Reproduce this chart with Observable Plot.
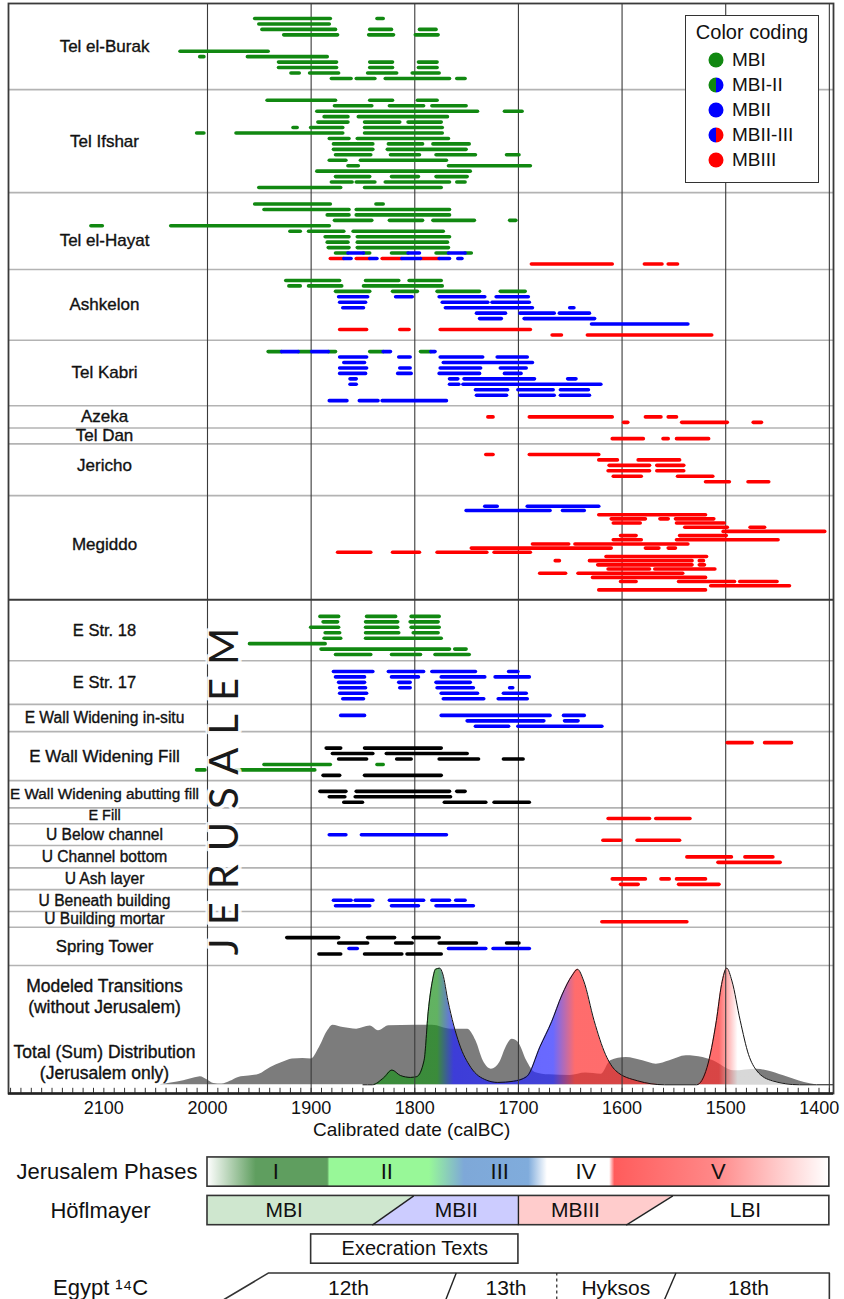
<!DOCTYPE html>
<html><head><meta charset="utf-8">
<script src="https://cdn.jsdelivr.net/npm/d3@7"></script>
<script src="https://cdn.jsdelivr.net/npm/@observablehq/plot@0.6"></script>
<style>
body{margin:0;background:#fff;}
#wrap{position:relative;width:844px;font-family:"Liberation Sans",Arial,sans-serif;color:#111;}
#wrap > svg{display:block;}
.legend{position:absolute;left:685px;top:15px;width:134px;height:168px;border:1.3px solid #333;background:#fff;box-sizing:border-box;}
.legend .lt{position:absolute;left:0;width:100%;top:5px;text-align:center;font-size:20px;}
.legend .li{position:absolute;left:22px;height:20px;font-size:19px;line-height:20px;white-space:nowrap;}
.legend .li svg{display:inline-block;vertical-align:middle;margin-right:8px;}
.legend .li span{vertical-align:middle;}
</style></head>
<body><div id="wrap"></div>
<script>
// ---------------- DATA ----------------
const siteNames = ["Tel el-Burak","Tel Ifshar","Tel el-Hayat","Ashkelon","Tel Kabri","Azeka","Tel Dan","Jericho","Megiddo",
  "E Str. 18","E Str. 17","E Wall Widening in-situ","E Wall Widening Fill","E Wall Widening abutting fill","E Fill",
  "U Below channel","U Channel bottom","U Ash layer","U Beneath building","U Building mortar","Spring Tower"];
const jerusalemFirst = "E Str. 18";
const phases = ["MBI","MBII","MBIII","unassigned"];
const phaseColors = ["#118811","#0000ff","#ff0000","#000000"];
const legendLabels = ["MBI","MBI-II","MBII","MBII-III","MBIII"];
const legendFills = [["#118811"],["#118811","#0000ff"],["#0000ff"],["#0000ff","#ff0000"],["#ff0000"]];

// [site, lane, phase, [older, younger, older, younger, ...]] in calBC
const samples = [
 ["Tel el-Burak",0,"MBI",[1954,1881,1836,1830]],
 ["Tel el-Burak",1,"MBI",[1950,1882]],
 ["Tel el-Burak",2,"MBI",[1947,1876,1843,1822,1795,1779]],
 ["Tel el-Burak",3,"MBI",[1926,1874,1844,1820,1799,1777]],
 ["Tel el-Burak",6,"MBI",[2026,1941]],
 ["Tel el-Burak",7,"MBI",[2007,2003,1961,1884]],
 ["Tel el-Burak",8,"MBI",[1931,1875,1843,1821,1796,1778]],
 ["Tel el-Burak",9,"MBI",[1931,1875,1843,1821,1796,1778]],
 ["Tel el-Burak",10,"MBI",[1919,1911,1901,1873,1845,1817,1802,1776]],
 ["Tel el-Burak",11,"MBI",[1880,1861,1856,1838,1828,1766,1759,1751]],
 ["Tel Ifshar",0,"MBI",[1942,1876,1843,1821,1797,1778]],
 ["Tel Ifshar",1,"MBI",[1877,1841,1824,1791,1783,1750]],
 ["Tel Ifshar",2,"MBI",[1894,1739,1713,1696]],
 ["Tel Ifshar",3,"MBI",[1887,1864,1854,1768]],
 ["Tel Ifshar",4,"MBI",[1893,1864,1848,1814,1806,1774]],
 ["Tel Ifshar",5,"MBI",[1917,1913,1900,1869,1848,1773]],
 ["Tel Ifshar",6,"MBI",[2010,2003,1972,1869,1848,1773]],
 ["Tel Ifshar",7,"MBI",[1882,1863,1855,1767]],
 ["Tel Ifshar",8,"MBI",[1878,1840,1825,1792,1782,1747]],
 ["Tel Ifshar",9,"MBI",[1878,1840,1826,1750]],
 ["Tel Ifshar",10,"MBI",[1876,1842,1823,1795,1779,1741,1711,1699]],
 ["Tel Ifshar",11,"MBI",[1882,1866,1852,1769]],
 ["Tel Ifshar",12,"MBI",[1864,1854,1767,1688]],
 ["Tel Ifshar",13,"MBI",[1894,1746]],
 ["Tel Ifshar",14,"MBI",[1876,1843,1822,1796,1779,1749]],
 ["Tel Ifshar",15,"MBI",[1880,1860,1856,1838,1828,1766,1759,1751]],
 ["Tel Ifshar",16,"MBI",[1950,1871,1848,1774]],
 ["Tel el-Hayat",0,"MBI",[1954,1881,1837,1830]],
 ["Tel el-Hayat",1,"MBI",[1945,1863,1856,1766]],
 ["Tel el-Hayat",2,"MBI",[1884,1863,1856,1766]],
 ["Tel el-Hayat",3,"MBI",[1877,1841,1824,1792,1782,1742,1708,1702]],
 ["Tel el-Hayat",4,"MBI",[2112,2101,2035,1882]],
 ["Tel el-Hayat",5,"MBI",[1920,1910,1902,1868,1859,1772]],
 ["Tel el-Hayat",6,"MBI",[1886,1863,1855,1766]],
 ["Tel el-Hayat",7,"MBI",[1884,1864,1855,1768]],
 ["Tel el-Hayat",8,"MBI",[1883,1863,1855,1767]],
 ["Tel el-Hayat",9,"MBI",[1876,1864,1849,1843,1822,1806,1779,1767,1751,1745]],
 ["Tel el-Hayat",9,"MBII",[1864,1849,1806,1795,1767,1751]],
 ["Tel el-Hayat",10,"MBIII",[1881,1868,1856,1843,1831,1812,1794,1776]],
 ["Tel el-Hayat",10,"MBII",[1868,1861,1843,1836,1812,1794,1776,1766,1758,1754]],
 ["Tel el-Hayat",11,"MBIII",[1687,1609,1578,1561,1555,1546]],
 ["Ashkelon",0,"MBI",[1924,1872,1847,1815,1805,1774]],
 ["Ashkelon",1,"MBI",[1921,1910,1902,1870,1849,1773]],
 ["Ashkelon",2,"MBI",[1876,1843,1821,1797,1778,1737,1717,1693]],
 ["Ashkelon",3,"MBII",[1873,1845,1818,1802,1776,1732,1721,1690]],
 ["Ashkelon",4,"MBII",[1872,1847,1773,1729,1725,1689]],
 ["Ashkelon",5,"MBII",[1869,1849,1770,1686,1650,1646]],
 ["Ashkelon",6,"MBII",[1740,1712,1698,1665,1660,1631]],
 ["Ashkelon",7,"MBII",[1737,1716,1694,1626]],
 ["Ashkelon",8,"MBII",[1629,1536]],
 ["Ashkelon",9,"MBIII",[1872,1846,1814,1805,1775,1688]],
 ["Ashkelon",10,"MBIII",[1667,1658,1633,1513]],
 ["Tel Kabri",0,"MBI",[1941,1928,1912,1899,1883,1876,1843,1830,1794,1784]],
 ["Tel Kabri",0,"MBII",[1928,1912,1899,1883,1830,1823,1784,1780]],
 ["Tel Kabri",1,"MBII",[1872,1846,1815,1804,1775,1734,1720,1691]],
 ["Tel Kabri",2,"MBII",[1868,1848,1772,1686]],
 ["Tel Kabri",3,"MBII",[1872,1846,1814,1804,1775,1736,1717,1692]],
 ["Tel Kabri",4,"MBII",[1872,1847,1816,1803,1776,1737,1713,1697]],
 ["Tel Kabri",5,"MBII",[1862,1856,1766,1758,1752,1684,1652,1644]],
 ["Tel Kabri",6,"MBII",[1862,1856,1766,1757,1753,1620]],
 ["Tel Kabri",7,"MBII",[1741,1710,1700,1666,1659,1632]],
 ["Tel Kabri",8,"MBII",[1740,1711,1698,1665,1659,1631]],
 ["Tel Kabri",9,"MBII",[1882,1865,1853,1835,1831,1769]],
 ["Azeka",0,"MBIII",[1729,1724,1689,1609,1577,1562,1555,1547]],
 ["Azeka",1,"MBIII",[1598,1594,1542,1498,1473,1465]],
 ["Tel Dan",0,"MBIII",[1609,1579,1560,1555,1547,1516]],
 ["Jericho",0,"MBIII",[1731,1724,1689,1622]],
 ["Jericho",1,"MBIII",[1622,1604,1584,1544]],
 ["Jericho",2,"MBIII",[1612,1573,1566,1540]],
 ["Jericho",3,"MBIII",[1613,1573,1566,1540]],
 ["Jericho",4,"MBIII",[1608,1581,1546,1512]],
 ["Jericho",5,"MBIII",[1519,1496,1478,1458]],
 ["Megiddo",0,"MBII",[1732,1720,1691,1622]],
 ["Megiddo",1,"MBII",[1750,1669,1657,1636]],
 ["Megiddo",2,"MBIII",[1622,1519]],
 ["Megiddo",3,"MBIII",[1610,1577,1563,1555,1548,1511]],
 ["Megiddo",4,"MBIII",[1608,1582,1547,1501]],
 ["Megiddo",5,"MBIII",[1539,1498,1476,1462]],
 ["Megiddo",6,"MBIII",[1502,1404]],
 ["Megiddo",7,"MBIII",[1601,1586,1544,1499]],
 ["Megiddo",8,"MBIII",[1608,1581,1547,1449]],
 ["Megiddo",9,"MBIII",[1686,1651,1645,1536]],
 ["Megiddo",10,"MBIII",[1745,1610,1577,1564,1555,1548]],
 ["Megiddo",11,"MBIII",[1874,1842,1821,1795,1778,1730,1723,1688]],
 ["Megiddo",12,"MBIII",[1615,1518]],
 ["Megiddo",13,"MBIII",[1664,1660,1631,1532,1525,1521]],
 ["Megiddo",14,"MBIII",[1623,1532,1525,1520]],
 ["Megiddo",15,"MBIII",[1613,1573,1568,1510]],
 ["Megiddo",16,"MBIII",[1679,1654,1642,1541]],
 ["Megiddo",17,"MBIII",[1628,1519]],
 ["Megiddo",18,"MBIII",[1601,1586,1545,1491,1486,1450]],
 ["Megiddo",19,"MBIII",[1514,1438]],
 ["Megiddo",20,"MBIII",[1622,1519]],
 ["E Str. 18",0,"MBI",[1891,1873,1846,1818,1803,1776]],
 ["E Str. 18",1,"MBI",[1888,1874,1847,1816,1804,1777]],
 ["E Str. 18",2,"MBI",[1900,1873,1847,1816,1803,1776]],
 ["E Str. 18",3,"MBI",[1886,1872,1847,1815,1801,1777]],
 ["E Str. 18",4,"MBI",[1887,1871,1847,1774]],
 ["E Str. 18",5,"MBI",[1959,1886]],
 ["E Str. 18",6,"MBI",[1890,1766,1761,1750]],
 ["E Str. 18",7,"MBI",[1876,1842,1822,1794,1780,1747]],
 ["E Str. 17",0,"MBII",[1878,1840,1825,1791,1783,1741,1709,1700]],
 ["E Str. 17",1,"MBII",[1876,1848,1822,1796,1774,1732,1722,1689]],
 ["E Str. 17",2,"MBII",[1873,1848,1815,1804,1779,1746]],
 ["E Str. 17",3,"MBII",[1872,1847,1814,1804,1778,1743,1708,1705]],
 ["E Str. 17",4,"MBII",[1872,1846,1774,1739,1714,1692]],
 ["E Str. 17",5,"MBII",[1869,1849,1772,1733,1719,1691]],
 ["E Wall Widening in-situ",0,"MBII",[1871,1848,1774,1669,1656,1636]],
 ["E Wall Widening in-situ",1,"MBII",[1749,1675,1655,1642]],
 ["E Wall Widening in-situ",2,"MBII",[1741,1709,1700,1619]],
 ["E Wall Widening Fill",0,"MBIII",[1498,1474,1462,1436]],
 ["E Wall Widening Fill",1,"unassigned",[1885,1871,1848,1774]],
 ["E Wall Widening Fill",2,"unassigned",[1879,1840,1827,1749]],
 ["E Wall Widening Fill",3,"unassigned",[1873,1846,1817,1803,1776,1738,1714,1695]],
 ["E Wall Widening Fill",4,"MBI",[1945,1881,1836,1830]],
 ["E Wall Widening Fill",5,"MBI",[2010,2002,1972,1896]],
 ["E Wall Widening Fill",6,"unassigned",[1888,1872,1848,1774]],
 ["E Wall Widening abutting fill",0,"unassigned",[1891,1866,1856,1766,1759,1751]],
 ["E Wall Widening abutting fill",1,"unassigned",[1882,1867,1857,1765]],
 ["E Wall Widening abutting fill",2,"unassigned",[1868,1850,1771,1731,1723,1689]],
 ["E Fill",0,"MBIII",[1613,1573,1567,1534]],
 ["U Below channel",0,"MBII",[1882,1866,1851,1769]],
 ["U Below channel",1,"MBIII",[1618,1601,1585,1544]],
 ["U Channel bottom",0,"MBIII",[1537,1494,1481,1454]],
 ["U Channel bottom",1,"MBIII",[1507,1447]],
 ["U Ash layer",0,"MBIII",[1609,1577,1562,1554,1547,1519]],
 ["U Ash layer",1,"MBIII",[1601,1584,1545,1506]],
 ["U Beneath building",0,"MBII",[1878,1861,1857,1840,1824,1791,1783,1766,1760,1751]],
 ["U Beneath building",1,"MBII",[1876,1843,1822,1796,1779,1743]],
 ["U Building mortar",0,"MBIII",[1619,1537]],
 ["Spring Tower",0,"unassigned",[1923,1873,1845,1819,1801,1776]],
 ["Spring Tower",1,"unassigned",[1873,1845,1818,1802,1776,1740,1711,1699]],
 ["Spring Tower",2,"MBII",[1863,1855,1767,1731,1724,1689]],
 ["Spring Tower",3,"unassigned",[1892,1871,1848,1812,1807,1774]]
];

// Total (Sum) distribution, Jerusalem only: [calBC, relative probability]
const totalSum = [[2046,0],[2035,0.015],[2023,0.034],[2012,0.06],[2007,0.069],[2000,0.04],[1994,0.011],[1986,0.006],[1978,0.03],[1970,0.063],[1960,0.075],[1950,0.091],[1939,0.149],[1928,0.19],[1918,0.22],[1908,0.226],[1900,0.22],[1892,0.32],[1884,0.463],[1879,0.511],[1869,0.491],[1856,0.477],[1843,0.503],[1835,0.463],[1825,0.506],[1800,0.51],[1783,0.511],[1765,0.477],[1749,0.477],[1741,0.377],[1734,0.206],[1726,0.134],[1718,0.191],[1712,0.32],[1706,0.391],[1700,0.363],[1692,0.206],[1684,0.106],[1670,0.085],[1650,0.08],[1635,0.1],[1620,0.09],[1611,0.206],[1596,0.234],[1580,0.206],[1567,0.177],[1554,0.206],[1538,0.249],[1522,0.234],[1512,0.206],[1492,0.12],[1470,0.134],[1460,0.12],[1444,0.077],[1424,0.02],[1413,0]];
// Modeled transitions (without Jerusalem)
const modeled = [[1850,0],[1841,0],[1830,0.06],[1822,0.126],[1814,0.08],[1804,0.063],[1798,0.07],[1791,0.21],[1787,0.63],[1783,0.89],[1780,0.99],[1776,1.0],[1773,0.95],[1768,0.72],[1757,0.35],[1746,0.15],[1731,0.04],[1720,0.02],[1705,0.03],[1692,0.07],[1679,0.33],[1668,0.54],[1658,0.77],[1648,0.94],[1643,0.99],[1637,0.89],[1627,0.55],[1616,0.26],[1606,0.12],[1585,0.034],[1559,0.0],[1528,0.0],[1518,0.15],[1509,0.55],[1504,0.86],[1499,1.0],[1494,0.89],[1486,0.55],[1478,0.26],[1470,0.12],[1455,0.034],[1429,0.0],[1396,0.0]];
const modeledColors = [[1850,"#1f921f"],[1778,"#1f921f"],[1762,"#2222ff"],[1666,"#2a2aff"],[1645,"#ff2e2e"],[1506,"#ff2e2e"],[1488,"#ffffff"],[1396,"#ffffff"]];
const densityLabels = ["Modeled Transitions\n(without Jerusalem)","Total (Sum) Distribution\n(Jerusalem only)"];

const majorTicks = [2100,2000,1900,1800,1700,1600,1500,1400];
const gridYears = [2000,1900,1800,1700,1600,1500,1400];
const xLabel = "Calibrated date (calBC)";

// Bottom chronology bands
const bandLabels = ["Jerusalem Phases","Höflmayer","","Egypt ¹⁴C"];
const jerPhaseNames = ["I","II","III","IV","V"];
const jerPhaseMid = [1934,1827,1718,1635,1507];
const jerPhaseColors = [[2000,"#ffffff"],[1953,"#5f9e5f"],[1884,"#5f9e5f"],[1882,"#98f898"],[1786,"#98f898"],[1752,"#7ea8d8"],[1690,"#80acdc"],[1672,"#ffffff"],[1612,"#ffffff"],[1607,"#ff5c5c"],[1510,"#ff8888"],[1400,"#ffffff"]];
const hoflNames = ["MBI","MBII","MBIII","LBI"];
const hoflMid = [1926,1760,1645,1481];
const hoflFills = ["#cfe7cf","#ccccff","#ffcccc","#ffffff"];
const hoflBounds = [[2000,2000],[1841,1801],[1700,1700],[1596,1551],[1400,1400]]; // [bottom, top]
const execration = {label:"Execration Texts", from:1900, to:1700, mid:1800};
const egyptNames = ["12th","13th","Hyksos","18th"];
const egyptMid = [1864,1712,1606,1478];
const egyptBounds = [[1984,1941],[1770,1760],[1663,1663],[1559,1548],[1400,1400]]; // [bottom, top]

// ---------------- LAYOUT ----------------
const X_DOMAIN = [2192, 1396];
const layout = {
  size: [15.8,18.9,14.1,13,12,4.1,2.9,9.5,19.1,11.2,8,5,9,5,2.9,4,4.1,4,4,2.9,7],
  pad:  [2.75,1.96,2.09,2.02,2.07,2.05,1.94,1.94,1.96,3.06,1.96,2.02,2.02,1.96,1.94,2.02,2.09,2.02,1.94,1.89,1.89],
  step: {"Megiddo":0.767},
  labelShift: {"Tel el-Hayat":1.7,"Jericho":-0.8,"Megiddo":-0.6},
  labelSize: {"E Str. 18":16.5,"E Str. 17":16.5,"E Wall Widening in-situ":15.6,"E Wall Widening Fill":17,
    "E Wall Widening abutting fill":15.3,"E Fill":14.5,"U Below channel":15.6,"U Channel bottom":15.6,"U Ash layer":15.6,
    "U Beneath building":15.6,"U Building mortar":15.6,"Spring Tower":16.8},
  densitySize: 23.5, densBase: 21.9, densAmp: 21.4
};
const FONT = '"Liberation Sans", Arial, sans-serif';

// derive row geometry
const rowTop = {}; let acc = 0;
siteNames.forEach((s,i) => { rowTop[s] = acc; acc += layout.size[i]; });
const densTop = acc;
const totalUnits = acc + layout.densitySize;
const boundaries = siteNames.map(s => rowTop[s]).slice(1).concat([densTop]);
const densBaseY = densTop + layout.densBase;
const amp = layout.densAmp;

const segs = [];
for (const [site, lane, phase, xs] of samples) {
  const i = siteNames.indexOf(site);
  const y = rowTop[site] + layout.pad[i] + lane * (layout.step[site] || 1);
  for (let k = 0; k < xs.length; k += 2) segs.push({site, phase, y, from: xs[k], to: xs[k+1]});
}
const siteLabels = siteNames.map((s,i) => ({
  name: s, y: rowTop[s] + layout.size[i]/2 + (layout.labelShift[s] || 0), fs: layout.labelSize[s] || 17
}));
const jerTop = rowTop[jerusalemFirst];
const jerMid = (jerTop + densTop)/2 + 0.45;
const minorTicks = d3.range(2190, 1399, -10);
const textHalo = {fill: "#111", stroke: "#111", strokeWidth: 0.35};

const main = Plot.plot({
  width: 844, height: 1145,
  marginLeft: 8, marginRight: 11, marginTop: 3, marginBottom: 52,
  style: {fontFamily: FONT, fontSize: "17px", color: "#111", background: "#fff"},
  x: {domain: X_DOMAIN},
  y: {domain: [0, totalUnits], reverse: true, axis: null},
  color: {domain: phases, range: phaseColors},
  marks: [
    Plot.areaY(totalSum, {x: d => d[0], y1: () => densBaseY, y2: d => densBaseY - d[1]*amp, fill: "#7c7c7c", curve: "monotone-x"}),
    Plot.areaY(modeled, {x: d => d[0], y1: () => densBaseY, y2: d => densBaseY - d[1]*amp, fill: "url(#modGrad)", fillOpacity: 0.7, curve: "monotone-x"}),
    Plot.lineY(modeled, {x: d => d[0], y: d => densBaseY - d[1]*amp, stroke: "#111", strokeWidth: 1, curve: "monotone-x"}),
    Plot.ruleY(boundaries.filter(b => b !== jerTop), {stroke: "#b3b3b3", strokeWidth: 1.6}),
    Plot.ruleY([jerTop], {stroke: "#3a3a3a", strokeWidth: 2.2}),
    Plot.ruleX(gridYears, {stroke: "#3a3a3a", strokeWidth: 1.1}),
    Plot.ruleY(segs, {y: "y", x1: "from", x2: "to", stroke: "phase", strokeWidth: 3.6, strokeLinecap: "round"}),
    Plot.text(siteLabels, {y: "y", text: "name", frameAnchor: "left", dx: 96, textAnchor: "middle", fontSize: "fs", ...textHalo}),
    Plot.text(densityLabels, {y: (d,i) => densTop + (i === 0 ? 5.6 : 17.6), text: d => d, frameAnchor: "left", dx: 96, textAnchor: "middle", fontSize: 17.5, lineHeight: 1.22, ...textHalo}),
    Plot.text(["JERUSALEM"], {x: 1983, y: jerMid, text: d => d, rotate: -90, fontSize: 40, fontFamily: "Lato, " + FONT, fill: "#1a1a1a", stroke: "white", strokeWidth: 7, strokeOpacity: 0.85, paintOrder: "stroke"}),
    Plot.ruleX(minorTicks, {y1: totalUnits, y2: totalUnits - 0.95, stroke: "#333", strokeWidth: 1}),
    Plot.frame({stroke: "#3a3a3a", strokeWidth: 1.8}),
    Plot.ruleY([totalUnits], {stroke: "#222", strokeWidth: 2.6}),
    Plot.axisX(majorTicks, {tickSize: 0, tickPadding: 8, fontSize: 18, tickFormat: "d", label: null}),
    Plot.text([xLabel], {x: 1803, frameAnchor: "bottom", dy: 42, text: d => d, fontSize: 19, fill: "#111"})
  ]
});

// gradient for modeled transitions + text tweaks
{
  const xs = main.scale("x");
  const x1 = xs.apply(modeledColors[0][0]), x2 = xs.apply(modeledColors[modeledColors.length-1][0]);
  const g = d3.select(main).insert("defs", ":first-child").append("linearGradient")
    .attr("id", "modGrad").attr("gradientUnits", "userSpaceOnUse")
    .attr("x1", x1).attr("x2", x2).attr("y1", 0).attr("y2", 0);
  for (const [yr, c] of modeledColors) g.append("stop").attr("offset", (xs.apply(yr)-x1)/(x2-x1)).attr("stop-color", c);
  d3.select(main).selectAll("text").filter(function(){ return this.textContent === "JERUSALEM"; }).attr("letter-spacing", "13px");
  d3.select(main).selectAll("text").filter(function(){ return this.textContent === "1400"; }).attr("text-anchor", "end").attr("dx", "10");
}

// ---------------- BANDS ----------------
const hh = 0.38, bandBottom = 3.31;
const hoflMarks = hoflNames.map((n,i) => Plot.areaX(
  [{y: 1-hh, a: hoflBounds[i][1], b: hoflBounds[i+1][1]}, {y: 1+hh, a: hoflBounds[i][0], b: hoflBounds[i+1][0]}],
  {y: "y", x1: "a", x2: "b", fill: hoflFills[i]}));
const bands = Plot.plot({
  width: 844, height: 154,
  marginLeft: 8, marginRight: 11, marginTop: 0, marginBottom: 0,
  style: {fontFamily: FONT, fontSize: "21px", color: "#111", background: "#fff"},
  x: {domain: X_DOMAIN, axis: null},
  y: {domain: [-0.69, 3.31], reverse: true, axis: null},
  marks: [
    Plot.rect([0], {x1: 2000, x2: 1400, y1: -hh, y2: hh, fill: "url(#phaseGrad)", stroke: "#333", strokeWidth: 1.6}),
    Plot.text(jerPhaseNames, {x: (d,i) => jerPhaseMid[i], y: 0, text: d => d, fontSize: 22, fill: "#111"}),
    ...hoflMarks,
    Plot.rect([0], {x1: 2000, x2: 1400, y1: 1-hh, y2: 1+hh, fill: "none", stroke: "#333", strokeWidth: 1.6}),
    Plot.link(hoflBounds.slice(1,-1), {x1: d => d[0], y1: 1+hh, x2: d => d[1], y2: 1-hh, stroke: "#222", strokeWidth: 1.4}),
    Plot.text(hoflNames, {x: (d,i) => hoflMid[i], y: 1, text: d => d, fontSize: 21, fill: "#111"}),
    Plot.rect([execration], {x1: "from", x2: "to", y1: 2-hh, y2: 2+hh, fill: "white", stroke: "#333", strokeWidth: 1.6}),
    Plot.text([execration], {x: "mid", y: 2, text: "label", fontSize: 20, fill: "#111"}),
    Plot.line([[egyptBounds[0][0], bandBottom], [egyptBounds[0][1], 3-hh], [1400, 3-hh], [1400, bandBottom]], {x: d => d[0], y: d => d[1], stroke: "#333", strokeWidth: 1.6}),
    Plot.link(egyptBounds.slice(1,-1).filter(d => d[0] !== d[1]), {x1: d => d[0], y1: bandBottom, x2: d => d[1], y2: 3-hh, stroke: "#222", strokeWidth: 1.4}),
    Plot.link(egyptBounds.slice(1,-1).filter(d => d[0] === d[1]), {x1: d => d[0], y1: bandBottom, x2: d => d[1], y2: 3-hh, stroke: "#222", strokeWidth: 1.2, strokeDasharray: "3,3"}),
    Plot.text(egyptNames, {x: (d,i) => egyptMid[i], y: 3.02, text: d => d, fontSize: 21, fill: "#111"}),
    Plot.text([bandLabels[0]], {y: 0, text: d => d, frameAnchor: "left", dx: 189, textAnchor: "end", fontSize: 22, fill: "#111"}),
    Plot.text([bandLabels[1]], {y: 1, text: d => d, frameAnchor: "left", dx: 92, textAnchor: "middle", fontSize: 22, fill: "#111"}),
    Plot.text([bandLabels[3]], {y: 3.02, text: d => d, frameAnchor: "left", dx: 92, textAnchor: "middle", fontSize: 22, fill: "#111"})
  ]
});
{
  const g = d3.select(bands).insert("defs", ":first-child").append("linearGradient")
    .attr("id", "phaseGrad").attr("x1", 0).attr("x2", 1).attr("y1", 0).attr("y2", 0);
  for (const [yr, c] of jerPhaseColors) g.append("stop").attr("offset", (2000 - yr)/600).attr("stop-color", c);
}

const wrap = document.getElementById("wrap");
wrap.appendChild(main);
wrap.appendChild(bands);

// legend
const leg = document.createElement("div");
leg.className = "legend";
let html = '<div class="lt">Color coding</div>';
legendLabels.forEach((lab, i) => {
  const f = legendFills[i], r = 7.5;
  const shape = f.length === 1 ? `<circle cx="8" cy="8" r="${r}" fill="${f[0]}"/>`
    : `<path d="M8,${8-r}A${r},${r} 0 0 0 8,${8+r}Z" fill="${f[0]}"/><path d="M8,${8-r}A${r},${r} 0 0 1 8,${8+r}Z" fill="${f[1]}"/>`;
  html += `<div class="li" style="top:${33 + i*25}px"><svg width="16" height="16">${shape}</svg><span>${lab}</span></div>`;
});
leg.innerHTML = html;
wrap.appendChild(leg);
</script>
</body></html>
